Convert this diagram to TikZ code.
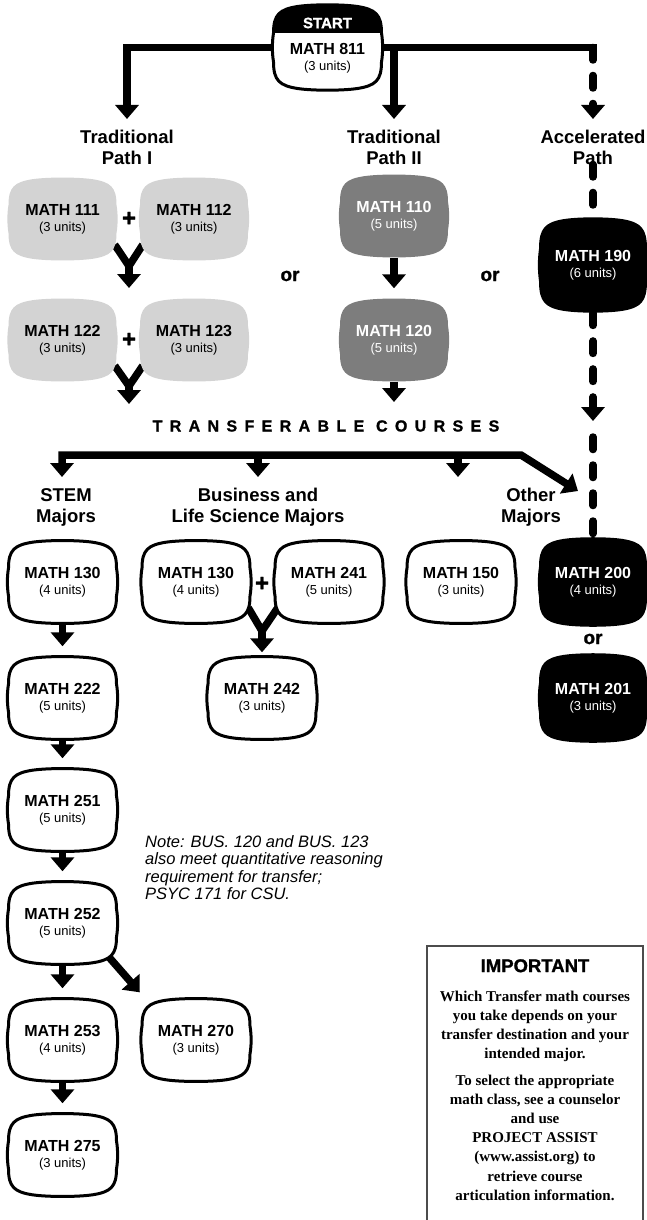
\documentclass[tikz,border=0pt]{standalone}
\usepackage{fontspec}
\setmainfont{Liberation Sans}
\newfontfamily\importantserif{Liberation Serif}
\newfontface\heavysans{Liberation Sans Bold}[FakeBold=1.2]
\newfontface\spacedheavy{Liberation Sans Bold}[FakeBold=1.2,LetterSpace=46]
\usetikzlibrary{arrows.meta,calc}
\pgfdeclarelayer{conns}
\pgfdeclarelayer{shapes}
\pgfsetlayers{conns,shapes,main}
\definecolor{lgray}{HTML}{D3D3D3}
\definecolor{dgray}{HTML}{7D7D7D}
\tikzset{
  conn/.style={line width=7.5pt},
  tipped/.style={-{Triangle[width=23pt,length=14pt]}},
  tipboth/.style={{Triangle[width=23pt,length=14pt]}-{Triangle[width=23pt,length=14pt]}},
  dashconn/.style={line width=7.5pt, line cap=round, dash pattern=on 12.5pt off 15.5pt},
  boxtext/.style={align=center, inner sep=0pt, minimum width=108pt, font=\fontsize{13}{16}\selectfont},
  pathlabel/.style={align=center, inner sep=0pt, font=\bfseries\fontsize{18.5}{21}\selectfont},
  orlabel/.style={inner sep=0pt, font=\heavysans\fontsize{19}{20}\selectfont},
  plussign/.style={inner sep=0pt, font=\heavysans\fontsize{24}{24}\selectfont},
  whitebox/.style={fill=white, draw=black, line width=3pt},
}
\newcommand\tvdraw[1]{\path[#1] (-54,-14) .. controls (-54,-32) and (-48,-37) .. (-30,-39.8) .. controls (-15,-42) and (15,-42) .. (30,-39.8) .. controls (48,-37) and (54,-32) .. (54,-14) .. controls (55.5,-5) and (55.5,5) .. (54,14) .. controls (54,32) and (48,37) .. (30,39.8) .. controls (15,42) and (-15,42) .. (-30,39.8) .. controls (-48,37) and (-54,32) .. (-54,14) .. controls (-55.5,5) and (-55.5,-5) .. cycle;}
% #1 name, #2 x, #3 y, #4 shape options, #5 text colour, #6 course, #7 units, #8 yscale
\newcommand\tv[8]{%
  \begin{pgfonlayer}{shapes}\tvdraw{#4, shift={(#2,#3)}, yscale=#8}\end{pgfonlayer}%
  \node[boxtext, text=#5, minimum height={83*#8}] (#1) at (#2,#3) {{\bfseries\fontsize{16}{16}\selectfont MATH #6}\\(#7 units)};}

\begin{document}
\begin{tikzpicture}[x=1pt,y=-1pt]
\useasboundingbox (0,0) rectangle (646,1220);

% ---------- START ----------
\begin{pgfonlayer}{shapes}
  \tvdraw{fill=white, shift={(327.5,47.5)}, yscale=1.03}
  \begin{scope}
    \clip (260,-10) rectangle (395,33);
    \tvdraw{fill=black, shift={(327.5,47.5)}, yscale=1.03}
  \end{scope}
  \tvdraw{draw=black, line width=3pt, shift={(327.5,47.5)}, yscale=1.03}
\end{pgfonlayer}
\node[minimum width=108pt, minimum height=86pt, inner sep=0pt] (start) at (327.5,47.5) {};
\node[text=white, inner sep=0pt, font=\heavysans\fontsize{15}{15}\selectfont] (startcap) at (327.5,23) {START};
\node[align=center, inner sep=0pt, font=\fontsize{13}{16}\selectfont] (starttxt) at (327.5,58) {{\bfseries\fontsize{16}{16}\selectfont MATH 811}\\(3 units)};

% ---------- path labels ----------
\node[pathlabel] (lp1) at (127,147) {Traditional\\Path I};
\node[pathlabel] (lp2) at (394,147) {Traditional\\Path II};
\node[pathlabel] (lp3) at (593,147) {Accelerated\\Path};

\coordinate (t1) at (127,119);
\coordinate (t2) at (394,119);
\coordinate (t3) at (593,119);
\coordinate (c3) at (593,47.5);

% ---------- gray rows ----------
\tv{m111}{62.5}{219}{fill=lgray}{black}{111}{3}{1}
\tv{m112}{194}{219}{fill=lgray}{black}{112}{3}{1}
\tv{m122}{62.5}{340}{fill=lgray}{black}{122}{3}{1}
\tv{m123}{194}{340}{fill=lgray}{black}{123}{3}{1}
\tv{m110}{394}{216}{fill=dgray}{white}{110}{5}{1}
\tv{m120}{394}{340}{fill=dgray}{white}{120}{5}{1}
\tv{m190}{593}{265}{fill=black}{white}{190}{6}{1.15}

\node[plussign] (p1) at (129,219) {+};
\node[plussign] (p2) at (129,340) {+};
\node[orlabel] (or1) at (290,276) {or};
\node[orlabel] (or2) at (490,276) {or};

\coordinate (j1) at (129,266);
\coordinate (j1t) at (129,288);
\coordinate (j2) at (129,386);
\coordinate (j2t) at (129,404);
\coordinate (t120) at (394,402);
\coordinate (acct) at (593,421);
\coordinate (acc2) at (593,437);

% ---------- transferable ----------
\node[inner sep=0pt, font=\spacedheavy\fontsize{16}{16}\selectfont] (tc) at (326,426) {TRANSFERABLE COURSES};
\coordinate (b0) at (62,455);
\coordinate (b0t) at (62,477);
\coordinate (b1) at (521,455);
\coordinate (b1t) at (578,491);
\coordinate (b2) at (258,455);
\coordinate (b2t) at (258,477);
\coordinate (b3) at (458,455);
\coordinate (b3t) at (458,477);

\node[pathlabel] (lstem) at (66,507) {STEM\\Majors};
\node[pathlabel] (lbus) at (258,507) {Business and\\Life Science Majors};
\node[pathlabel] (loth) at (531,507) {Other\\Majors};

% ---------- lower rows ----------
\tv{m130a}{62.5}{582}{whitebox}{black}{130}{4}{1}
\tv{m130b}{196}{582}{whitebox}{black}{130}{4}{1}
\tv{m241}{329}{582}{whitebox}{black}{241}{5}{1}
\tv{m150}{461}{582}{whitebox}{black}{150}{3}{1}
\tv{m200}{593}{582}{fill=black}{white}{200}{4}{1.08}
\node[plussign] (p3) at (262,584) {+};
\node[orlabel] (or3) at (593,639) {or};

\tv{m222}{62.5}{698}{whitebox}{black}{222}{5}{1}
\tv{m242}{262}{698}{whitebox}{black}{242}{3}{1}
\tv{m201}{593}{698}{fill=black}{white}{201}{3}{1.08}
\tv{m251}{62.5}{810}{whitebox}{black}{251}{5}{1}
\tv{m252}{62.5}{923}{whitebox}{black}{252}{5}{1}
\tv{m253}{62.5}{1040}{whitebox}{black}{253}{4}{1}
\tv{m270}{196}{1040}{whitebox}{black}{270}{3}{1}
\tv{m275}{62.5}{1155}{whitebox}{black}{275}{3}{1}

\coordinate (j3) at (262,631);

\node[anchor=north west, align=left, inner sep=0pt, font=\itshape\fontsize{16.5}{17.5}\selectfont] (note) at (145,835)
  {Note: BUS. 120 and BUS. 123\\also meet quantitative reasoning\\requirement for transfer;\\PSYC 171 for CSU.};

% ---------- IMPORTANT box ----------
\draw[line width=1.5pt, black!70] (427,1230) -- (427,946) -- (643,946) -- (643,1230);
\node[anchor=north, align=center, inner sep=0pt, font=\importantserif\bfseries\fontsize{15}{19.2}\selectfont] (imp) at (535,959)
  {{\heavysans\fontsize{18.5}{20}\selectfont IMPORTANT}\\[10pt]
   Which Transfer math courses\\ you take depends on your\\ transfer destination and your\\ intended major.\\[7pt]
   To select the appropriate\\ math class, see a counselor\\ and use\\ PROJECT ASSIST\\ (www.assist.org) to\\ retrieve course\\ articulation information.};

% ---------- connectors ----------
\begin{pgfonlayer}{conns}
  \draw[conn,tipped] (start.center) -| (t1);
  \draw[conn,tipped] (start.center) -| (t2);
  \draw[conn] (start.center) -- ($(c3)+(3.75,0)$);
  \draw[dashconn,tipped] (c3) -- (t3);

  \draw[conn] ($(m111.south east)+(-2,-16)$) -- (j1) -- ($(m112.south west)+(3,-16)$);
  \draw[conn,tipped] (j1) -- (j1t);
  \draw[conn] ($(m122.south east)+(-2,-16)$) -- (j2) -- ($(m123.south west)+(3,-16)$);
  \draw[conn,tipped] (j2) -- (j2t);
  \draw[conn,tipped] (m110.south) -- ([yshift=10pt]m120.north);
  \draw[conn,tipped] (m120.south) -- (t120);

  \draw[dashconn] (lp3.south) -- (m190.north);
  \draw[dashconn,tipped] (m190.south) -- (acct);
  \draw[dashconn] (acc2) -- (m200.north);

  \draw[conn,tipboth] (b0t) -- (b0) -- (b1) -- (b1t);
  \draw[conn,tipped] (b2) -- (b2t);
  \draw[conn,tipped] (b3) -- (b3t);

  \draw[conn] ($(m130b.south east)+(-2,-16)$) -- (j3) -- ($(m241.south west)+(3,-16)$);
  \draw[conn,tipped] (j3) -- ([yshift=4pt]m242.north);

  \draw[conn,tipped] (m130a.south) -- ([yshift=10pt]m222.north);
  \draw[conn,tipped] (m222.south) -- ([yshift=10pt]m251.north);
  \draw[conn,tipped] (m251.south) -- ([yshift=10pt]m252.north);
  \draw[conn,tipped] (m252.south) -- ([yshift=10pt]m253.north);
  \draw[conn,tipped] ($(m252.south east)+(-16,-17)$) -- ($(m270.north west)+(-2,-6)$);
  \draw[conn,tipped] (m253.south) -- ([yshift=10pt]m275.north);
\end{pgfonlayer}
\end{tikzpicture}
\end{document}
